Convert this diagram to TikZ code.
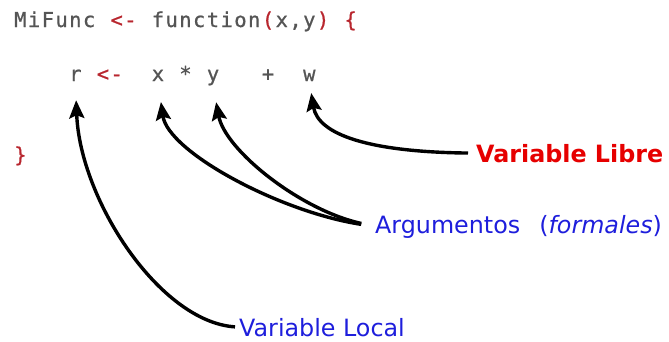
\documentclass[tikz,border=0pt]{standalone}
\usepackage{fontspec}
\setmainfont{DejaVu Sans}
\newfontfamily\codefont[LetterSpace=6.9,FakeBold=0.8]{DejaVu Sans Mono}
\usetikzlibrary{arrows.meta}
\definecolor{codeGray}{HTML}{555555}
\definecolor{codeRed}{HTML}{B8262E}
\definecolor{labelBlue}{HTML}{1E1EDC}
\definecolor{labelRed}{HTML}{E60000}

\begin{document}
\begin{tikzpicture}[x=1pt,y=-1pt,
  code/.style={anchor=base west,inner sep=0pt,font=\codefont\fontsize{20.5}{22}\selectfont,text=codeGray},
  op/.style={code,text=codeRed},
  lbl/.style={anchor=base west,inner sep=0pt,font=\fontsize{23.8}{26}\selectfont,text=labelBlue},
  arr/.style={-{Stealth[length=18pt,width=15pt,inset=3pt]},line width=3.4pt}]
\useasboundingbox (0,0) rectangle (669,341);
\def\cw{13.76}
% first line
\node[code] (fname) at (14,27) {MiFunc};
\node[op] at ({14+7*\cw},27) {<-};
\node[code] at ({14+10*\cw},27) {function};
\node[op] at ({14+18*\cw},27) {(};
\node[code] at ({14+19*\cw},27) {x,y};
\node[op] at ({14+22*\cw},27) {)};
\node[op] at ({14+24*\cw},27) {\{};
% body
\node[code] (r) at ({14+4*\cw},81) {r};
\node[op] at ({14+6*\cw},81) {<-};
\node[code] (x) at ({14+10*\cw},81) {x};
\node[code] at ({14+12*\cw},81) {*};
\node[code] (y) at ({14+14*\cw},81) {y};
\node[code] at ({14+18*\cw},81) {+};
\node[code] (w) at ({14+21*\cw},81) {w};
\node[op] at (14,162) {\}};
% labels
\node[lbl,font=\bfseries\fontsize{23.8}{26}\selectfont,text=labelRed] (libre) at (476,162) {Variable Libre};
\node[lbl] (args) at (375,233) {Argumentos\hspace{0.8em}(\textit{formales})};
\node[lbl] (local) at (239,336) {Variable Local};
% arrows
\draw[arr,shorten <=8pt,shorten >=12pt] (libre.west) .. controls (370,152) and (318,135) .. (w.south);
\draw[arr,shorten <=14pt,shorten >=21pt] (args.west) .. controls (280,212) and (168,152) .. (x.south);
\draw[arr,shorten <=14pt,shorten >=17pt] (args.west) .. controls (300,210) and (225,150) .. (y.south);
\draw[arr,shorten <=4pt,shorten >=19pt] (local.west) .. controls (160,322) and (80,200) .. (r.south);
\end{tikzpicture}
\end{document}
